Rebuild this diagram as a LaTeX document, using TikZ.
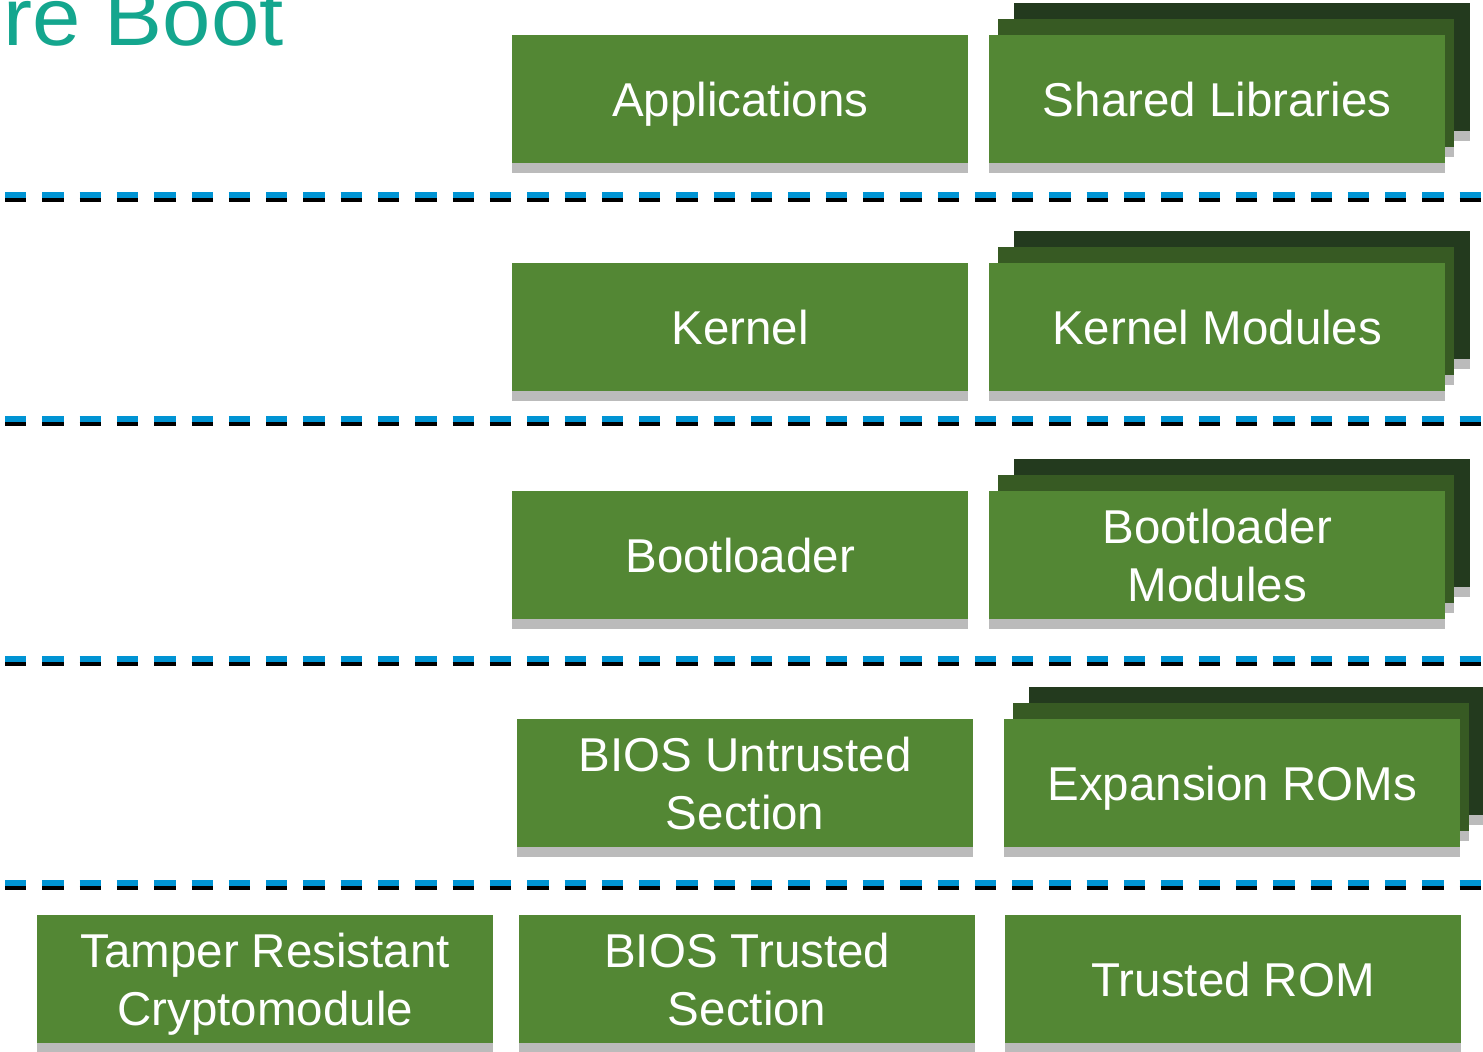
\documentclass[tikz,border=0pt]{standalone}
\usepackage{fontspec}
\setmainfont{Liberation Sans}
\usetikzlibrary{shadows}

\definecolor{boxgreen}{RGB}{83,135,52}
\definecolor{midgreen}{RGB}{55,90,35}
\definecolor{backgreen}{RGB}{35,58,30}
\definecolor{stripgray}{RGB}{187,187,187}
\definecolor{sepblue}{RGB}{0,148,212}
\definecolor{titleteal}{RGB}{20,166,142}

\tikzset{
  layerbox/.style={fill=boxgreen, text=white, anchor=north west,
    minimum width=456pt, minimum height=128pt, inner sep=0pt,
    align=center, font=\fontsize{47.5}{58}\selectfont,
    general shadow={fill=stripgray, shadow yshift=-10pt}},
  midlayer/.style={layerbox, fill=midgreen},
  backlayer/.style={layerbox, fill=backgreen},
  sepblueline/.style={sepblue, line width=6pt, dash pattern=on 21.3pt off 16pt},
  sepblackline/.style={black, line width=4pt, dash pattern=on 21.3pt off 16pt},
}

% keep descenders from shifting a label upwards
\newcommand\nodescent[1]{\raisebox{0pt}[\height][0pt]{#1}}

% a component drawn as a stack of three boxes, front one labelled
\newcommand\layerstack[4]{%
  \node[backlayer] (#1-back) at ({#2+25},{#3-32}) {};
  \node[midlayer]  (#1-mid)  at ({#2+9},{#3-16}) {};
  \node[layerbox]  (#1)      at (#2,#3) {#4};
}

% a dashed separator between trust levels
\newcommand\separator[2]{%
  \coordinate (#1-l) at (5,#2);
  \coordinate (#1-r) at (1483,#2);
  \draw[sepblueline] ([yshift=-3pt]#1-l) -- ([yshift=-3pt]#1-r);
  \draw[sepblackline] ([yshift=-8pt]#1-l) -- ([yshift=-8pt]#1-r);
}

\begin{document}
\begin{tikzpicture}[x=1pt, y=-1pt]
  \useasboundingbox[fill=white] (0,0) rectangle (1483,1052);
  \clip (0,0) rectangle (1483,1052);

  % title
  \node[anchor=base east, inner sep=0pt, text=titleteal, xscale=1.06,
        font=\fontsize{82}{90}\selectfont] (title) at (284,45) {re Boot};

  % applications level
  \node[layerbox] (apps) at (512,35) {\nodescent{Applications}};
  \layerstack{shlib}{989}{35}{Shared Libraries}
  \separator{sepa}{192}

  % kernel level
  \node[layerbox] (kernel) at (512,263) {Kernel};
  \layerstack{kmod}{989}{263}{Kernel Modules}
  \separator{sepb}{416}

  % bootloader level
  \node[layerbox] (boot) at (512,491) {Bootloader};
  \layerstack{bmod}{989}{491}{Bootloader\\Modules}
  \separator{sepc}{656}

  % firmware level
  \node[layerbox] (biosu) at (517,719) {BIOS Untrusted\\Section};
  \layerstack{xrom}{1004}{719}{\nodescent{Expansion ROMs}}
  \separator{sepd}{880}

  % root of trust
  \node[layerbox] (trm) at (37,915) {Tamper Resistant\\\nodescent{Cryptomodule}};
  \node[layerbox] (biost) at (519,915) {BIOS Trusted\\Section};
  \node[layerbox] (trom) at (1005,915) {Trusted ROM};
\end{tikzpicture}
\end{document}
